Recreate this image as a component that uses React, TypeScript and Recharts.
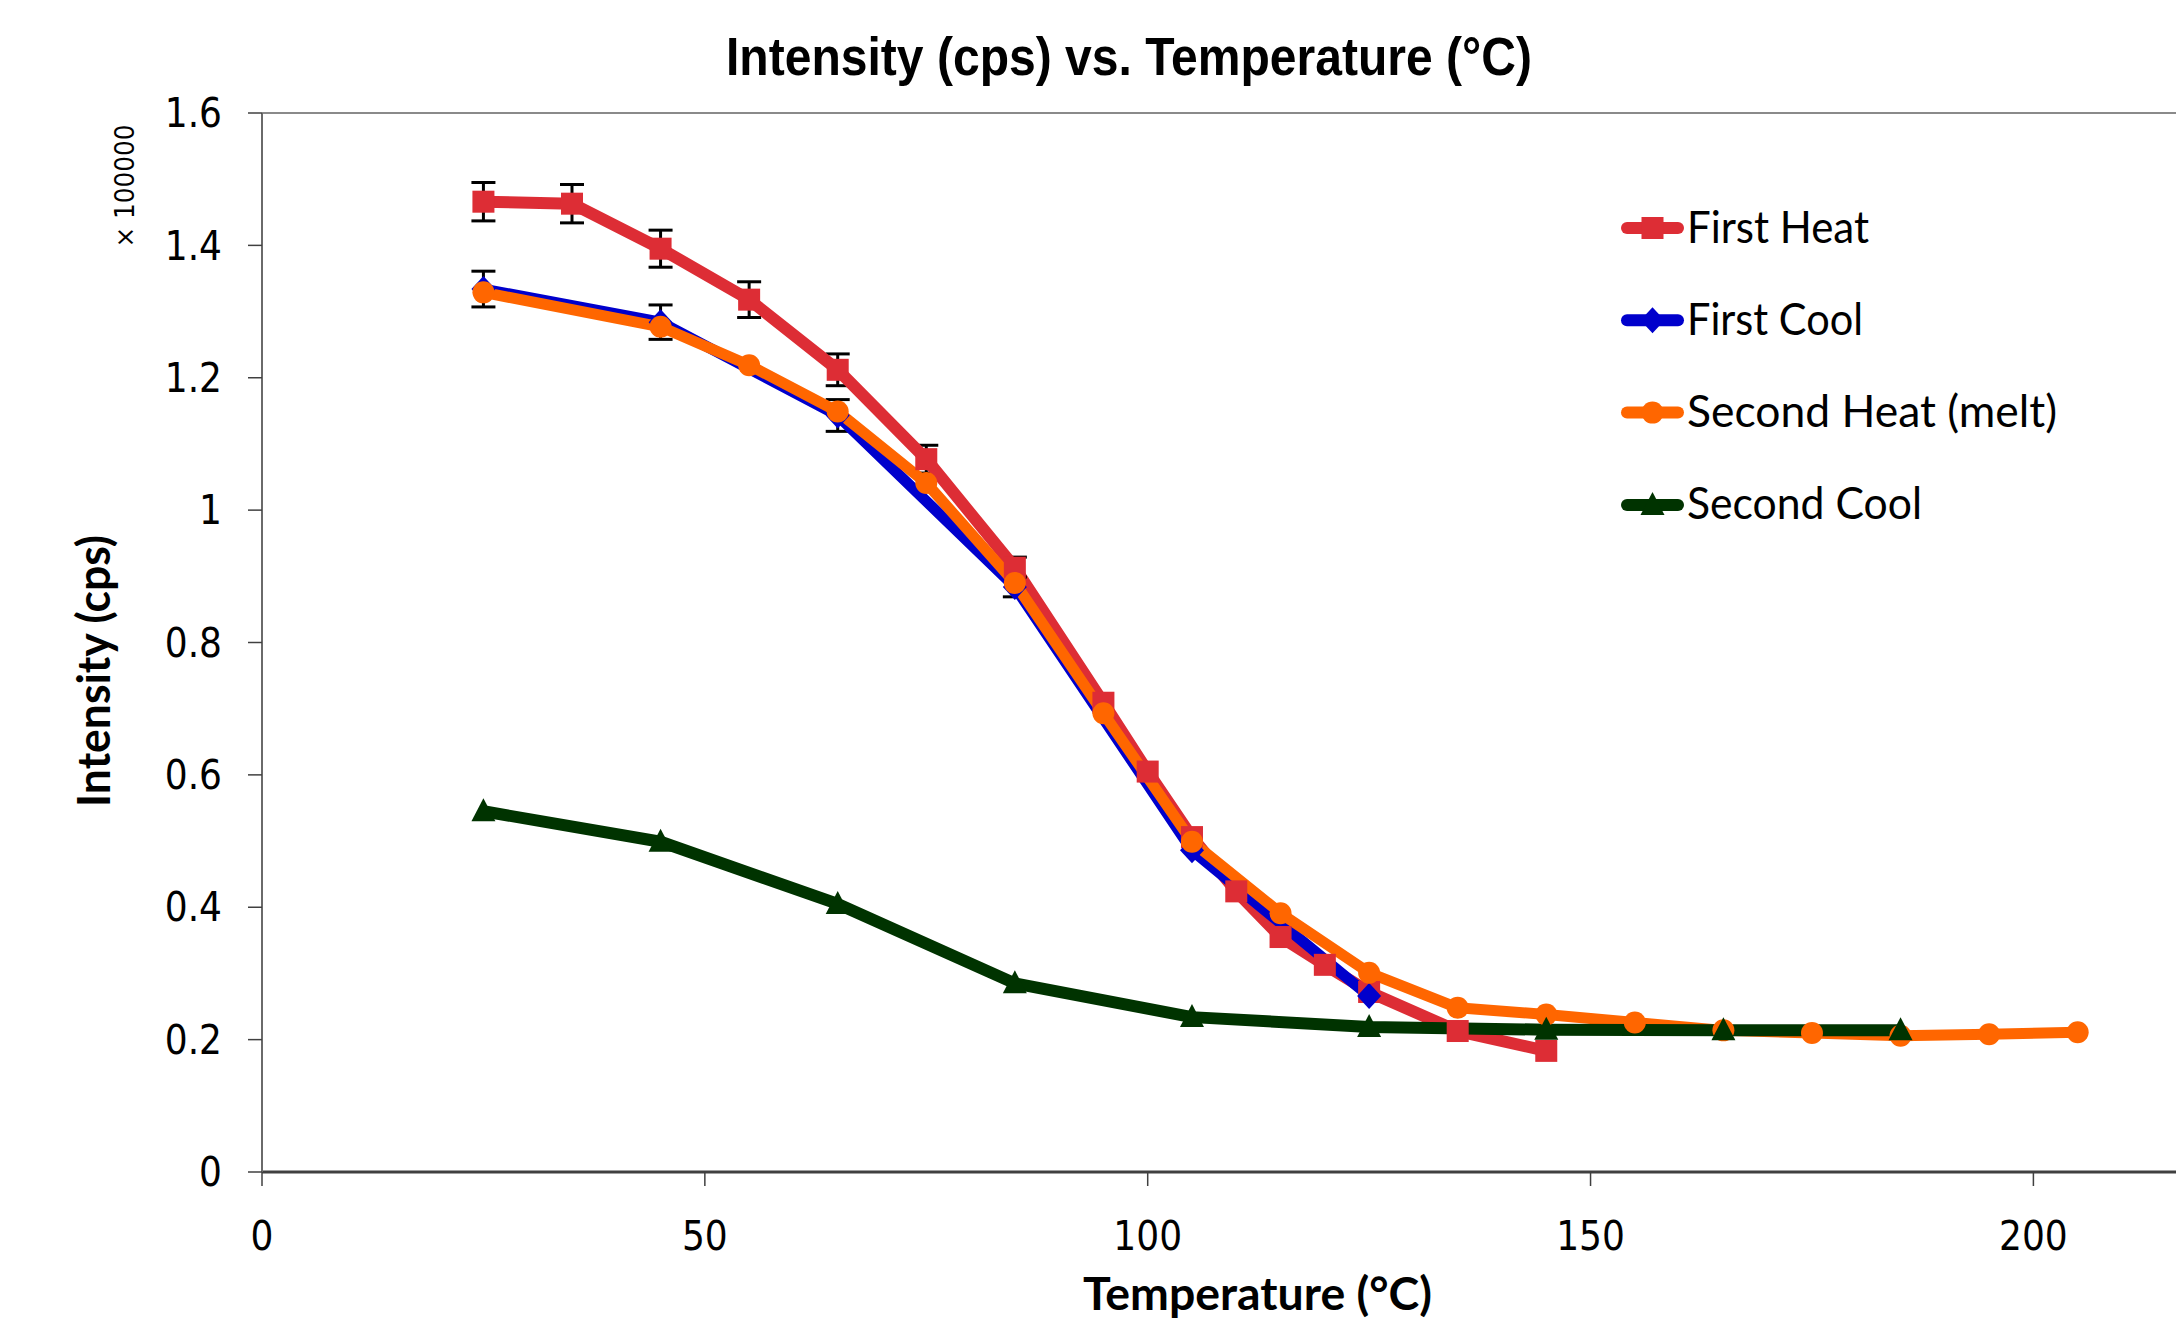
import React from 'react';
import { LineChart, Line, XAxis, YAxis, ErrorBar, ReferenceLine, Legend } from 'recharts';

// temperatures (°C) and intensities (x 100000 cps)
const firstHeatTemp = [25, 35, 45, 55, 65, 75, 85, 95, 100, 105, 110, 115, 120, 125, 135, 145];
const firstHeatVal = [1.466, 1.463, 1.395, 1.318, 1.212, 1.077, 0.913, 0.709, 0.605, 0.506, 0.424, 0.355, 0.313, 0.272, 0.213, 0.183];
const firstHeatErr = [0.029, 0.029, 0.028, 0.027, 0.024, 0.021, 0.016];

const firstCoolTemp = [25, 45, 65, 85, 105, 125];
const firstCoolVal = [1.334, 1.284, 1.143, 0.884, 0.486, 0.266];
const firstCoolErr = [0.027, 0.026, 0.024, 0.015];

const secondHeatTemp = [25, 45, 55, 65, 75, 85, 95, 105, 115, 125, 135, 145, 155, 165, 175, 185, 195, 205];
const secondHeatVal = [1.329, 1.277, 1.219, 1.149, 1.041, 0.89, 0.693, 0.499, 0.391, 0.301, 0.248, 0.238, 0.226, 0.214, 0.21, 0.206, 0.208, 0.211];

const secondCoolTemp = [25, 45, 65, 85, 105, 125, 145, 165, 185];
const secondCoolVal = [0.545, 0.499, 0.405, 0.285, 0.234, 0.219, 0.215, 0.214, 0.214];

const xTicks = [0, 50, 100, 150, 200];
const yTicks = [0, 0.2, 0.4, 0.6, 0.8, 1, 1.2, 1.4, 1.6];

const seriesNames = ['First Heat', 'First Cool', 'Second Heat (melt)', 'Second Cool'];

const RED = '#DD2D35';
const BLUE = '#0000CC';
const ORANGE = '#FF6600';
const GREEN = '#003300';

const toPoints = (temps: number[], vals: number[], errs: number[] = []) =>
    temps.map((t, i) => ({ x: t, y: vals[i], err: errs[i] }));

const firstHeat = toPoints(firstHeatTemp, firstHeatVal, firstHeatErr);
const firstCool = toPoints(firstCoolTemp, firstCoolVal, firstCoolErr);
const secondHeat = toPoints(secondHeatTemp, secondHeatVal);
const secondCool = toPoints(secondCoolTemp, secondCoolVal);

const tickFont = {
    fontSize: 40,
    fontFamily: "'DejaVu Sans Condensed', 'DejaVu Sans', sans-serif",
    fontStretch: 'condensed',
    fill: '#000',
};
const titleFont = "Lato, 'Open Sans', sans-serif";

function Marker({ kind, cx, cy, color }: { kind: string; cx: number; cy: number; color: string }) {
    if (cx == null || cy == null) return null;
    if (kind === 'square') {
        return <rect x={cx - 11} y={cy - 11} width={22} height={22} fill={color} />;
    }
    if (kind === 'diamond') {
        return <path d={`M${cx},${cy - 13}L${cx + 12},${cy}L${cx},${cy + 13}L${cx - 12},${cy}Z`} fill={color} />;
    }
    if (kind === 'triangle') {
        return <path d={`M${cx},${cy - 13}L${cx + 12},${cy + 10}L${cx - 12},${cy + 10}Z`} fill={color} />;
    }
    return <circle cx={cx} cy={cy} r={11} fill={color} />;
}

const markerDot = (kind: string, color: string) => (props: any) => (
    <Marker key={`${kind}-${props.index}`} kind={kind} cx={props.cx} cy={props.cy} color={color} />
);

const legendItems = [
    { name: seriesNames[0], color: RED, kind: 'square', len: 182 },
    { name: seriesNames[1], color: BLUE, kind: 'diamond', len: 176 },
    { name: seriesNames[2], color: ORANGE, kind: 'circle', len: 370 },
    { name: seriesNames[3], color: GREEN, kind: 'triangle', len: 235 },
];

function LegendBox() {
    return (
        <svg width={560} height={380}>
            {legendItems.map((item, i) => {
                const cy = 48 + i * 92.3;
                return (
                    <g key={item.name}>
                        <line x1={33} x2={84} y1={cy} y2={cy} stroke={item.color} strokeWidth={12} strokeLinecap="round" />
                        <Marker kind={item.kind} cx={58.5} cy={cy} color={item.color} />
                        <text
                            x={93}
                            y={cy + 14.5}
                            fontSize={44}
                            fontFamily={titleFont}
                            fill="#000"
                            textLength={item.len}
                            lengthAdjust="spacingAndGlyphs"
                        >
                            {item.name}
                        </text>
                    </g>
                );
            })}
        </svg>
    );
}

export default function App() {
    return (
        <div style={styles.page}>
            <LineChart width={2176} height={1323} margin={{ top: 113, right: 0, bottom: 0, left: 0 }}>
                <XAxis
                    type="number"
                    dataKey="x"
                    domain={[0, 216.1]}
                    allowDataOverflow
                    ticks={xTicks}
                    height={151}
                    tickSize={14}
                    tickMargin={36}
                    tick={tickFont}
                    axisLine={{ stroke: '#404040', strokeWidth: 3 }}
                    tickLine={{ stroke: '#404040', strokeWidth: 1.5 }}
                    label={() => (
                        <text
                            x={1083}
                            y={1310}
                            fontSize={46}
                            fontWeight="bold"
                            fontFamily={titleFont}
                            textLength={349}
                            lengthAdjust="spacingAndGlyphs"
                        >
                            Temperature (°C)
                        </text>
                    )}
                />
                <YAxis
                    type="number"
                    domain={[0, 1.6]}
                    allowDataOverflow
                    ticks={yTicks}
                    width={262}
                    tickSize={14}
                    tickMargin={26}
                    tick={tickFont}
                    tickFormatter={(v: number) => String(Number(v.toFixed(1)))}
                    axisLine={{ stroke: '#6a6a6a', strokeWidth: 2 }}
                    tickLine={{ stroke: '#404040', strokeWidth: 1.5 }}
                    label={() => (
                        <g>
                            <text
                                x={110}
                                y={671}
                                transform="rotate(-90 110 671)"
                                textAnchor="middle"
                                fontSize={46}
                                fontWeight="bold"
                                fontFamily={titleFont}
                                textLength={272}
                                lengthAdjust="spacingAndGlyphs"
                            >
                                Intensity (cps)
                            </text>
                            <text
                                x={134}
                                y={186}
                                transform="rotate(-90 134 186)"
                                textAnchor="middle"
                                fontSize={27}
                                fontFamily="'DejaVu Sans Condensed', 'DejaVu Sans', sans-serif"
                                textLength={123}
                                lengthAdjust="spacingAndGlyphs"
                            >
                                × 100000
                            </text>
                        </g>
                    )}
                />
                <ReferenceLine y={1.6} stroke="#8a8a8a" strokeWidth={2} />
                <Legend
                    layout="horizontal"
                    verticalAlign="middle"
                    align="center"
                    wrapperStyle={{ left: 1594, top: 180, width: 560, height: 380 }}
                    content={() => <LegendBox />}
                />
                <Line
                    data={firstHeat}
                    dataKey="y"
                    name={seriesNames[0]}
                    stroke={RED}
                    strokeWidth={12}
                    strokeLinejoin="round"
                    dot={markerDot('square', RED)}
                    activeDot={false}
                    isAnimationActive={false}
                >
                    <ErrorBar dataKey="err" direction="y" width={12} strokeWidth={3} stroke="#000" />
                </Line>
                <Line
                    data={firstCool}
                    dataKey="y"
                    name={seriesNames[1]}
                    stroke={BLUE}
                    strokeWidth={11}
                    strokeLinejoin="round"
                    dot={markerDot('diamond', BLUE)}
                    activeDot={false}
                    isAnimationActive={false}
                >
                    <ErrorBar dataKey="err" direction="y" width={12} strokeWidth={3} stroke="#000" />
                </Line>
                <Line
                    data={secondHeat}
                    dataKey="y"
                    name={seriesNames[2]}
                    stroke={ORANGE}
                    strokeWidth={11}
                    strokeLinejoin="round"
                    dot={markerDot('circle', ORANGE)}
                    activeDot={false}
                    isAnimationActive={false}
                />
                <Line
                    data={secondCool}
                    dataKey="y"
                    name={seriesNames[3]}
                    stroke={GREEN}
                    strokeWidth={12}
                    strokeLinejoin="round"
                    dot={markerDot('triangle', GREEN)}
                    activeDot={false}
                    isAnimationActive={false}
                />
            </LineChart>
            <svg width={2176} height={120} style={styles.overlay}>
                <text
                    x={726}
                    y={75}
                    fontSize={54}
                    fontWeight="bold"
                    fontFamily="'Liberation Sans', Arial, sans-serif"
                    textLength={806}
                    lengthAdjust="spacingAndGlyphs"
                >
                    Intensity (cps) vs. Temperature (°C)
                </text>
            </svg>
        </div>
    );
}

const styles: Record<string, React.CSSProperties> = {
    page: {
        position: 'absolute',
        left: 0,
        top: 0,
        width: 2176,
        height: 1323,
        background: '#fff',
        overflow: 'hidden',
    },
    overlay: {
        position: 'absolute',
        left: 0,
        top: 0,
        pointerEvents: 'none',
    },
};
